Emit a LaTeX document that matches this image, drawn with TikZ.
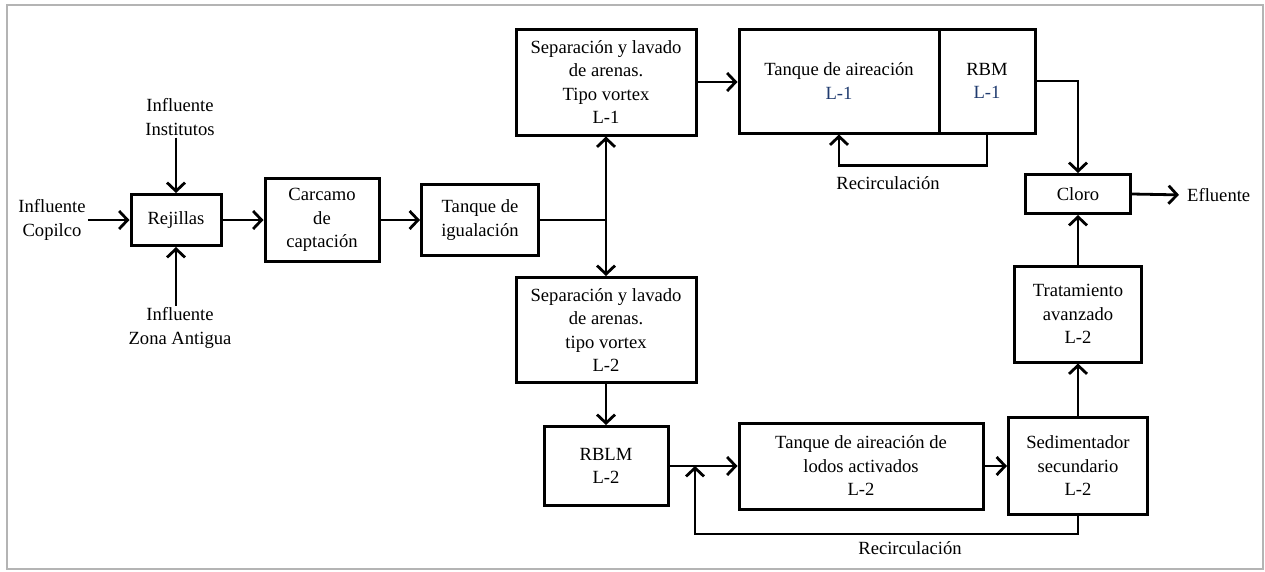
\documentclass[tikz,border=0pt]{standalone}
\usepackage{fontspec}
\setmainfont{Liberation Serif}
\usepackage{xcolor}
\usepackage{tikz}
\usetikzlibrary{arrows.meta}
\newcommand{\lbl}{\fontsize{18.6}{23.5}\selectfont}
\definecolor{lineblue}{HTML}{1F3A6E}
\definecolor{frame}{HTML}{B4B4B4}

\begin{document}
\begin{tikzpicture}[x=1pt, y=-1pt,
    box/.style={draw, line width=3pt, align=center, inner sep=0pt, font=\lbl},
    txt/.style={align=center, inner sep=2pt, font=\lbl},
    flow/.style={line width=2.8pt, -{Straight Barb[length=8.5pt, width=18pt]}},
    both/.style={line width=2.8pt, {Straight Barb[length=8.5pt, width=18pt]}-{Straight Barb[length=8.5pt, width=18pt]}}]
      \useasboundingbox (0,0) rectangle (1265,571);
      \draw[frame, line width=2pt] (7,5) rectangle (1263,569);
      % line 1
      \node[box, minimum width=90, minimum height=51] (rej) at (176,220) {Rejillas};
      \node[box, minimum width=114, minimum height=83] (carc) at (322,220) {Carcamo\\de\\captación};
      \node[box, minimum width=117, minimum height=71] (igual) at (480,220) {Tanque de\\igualación};
      \node[txt] (copilco) at (52,220) {Influente\\Copilco};
      \node[txt] (inst) at (180,117) {Influente\\Institutos};
      \node[txt] (zona) at (180,328) {Influente\\Zona Antigua};
      \coordinate (split) at (606,220);
      % L-1
      \node[box, minimum width=180, minimum height=106] (sepA) at (606,82) {Separación y lavado\\de arenas.\\Tipo vortex\\L-1};
      \node[box, minimum width=200, minimum height=104] (airA) at (839,81) {Tanque de aireación\\\textcolor{lineblue}{L-1}};
      \node[box, minimum width=96, minimum height=104] (rbm) at (987,81) {RBM\\\textcolor{lineblue}{L-1}};
      \node[box, minimum width=105, minimum height=39] (cloro) at (1078,194) {Cloro};
      \node[txt, anchor=west] (eflu) at (1185,195) {Efluente};
      \node[txt] (recA) at (888,183) {Recirculación};
      % L-2
      \node[box, minimum width=180, minimum height=105] (sepB) at (606,330) {Separación y lavado\\de arenas.\\tipo vortex\\L-2};
      \node[box, minimum width=124, minimum height=79] (rblm) at (606,466) {RBLM\\L-2};
      \node[box, minimum width=244, minimum height=86] (airB) at (861,466) {Tanque de aireación de\\lodos activados\\L-2};
      \node[box, minimum width=139, minimum height=97] (sed) at (1078,466) {Sedimentador\\secundario\\L-2};
      \node[box, minimum width=127, minimum height=96] (trat) at (1078,314) {Tratamiento\\avanzado\\L-2};
      \node[txt] (recB) at (910,548) {Recirculación};
      \coordinate (merge) at (695,466);

      \foreach \i\j in {copilco/rej, rej/carc, carc/igual, sepB/rblm, rblm/airB, airB/sed, sed/trat, trat/cloro} {
        \draw[flow] (\i) -- (\j);
      }
      \draw[flow] (inst.south -| rej.north) -- (rej.north);
      \draw[flow] (zona.north -| rej.south) -- (rej.south);
      \draw[line width=2.8pt] (igual.east) -- (split);
      \draw[both] (sepA) -- (sepB);
      \draw[flow] (sepA.east) -- (sepA.east -| airA.west);
      \draw[flow] (rbm.east) -| (cloro.north);
      \draw[flow, shorten >=6pt] (cloro.east) -- (eflu.west);
      \draw[flow] (rbm.south) -- ++(0,31) -| (airA.south);
      \draw[flow] (sed.south) -- ++(0,18) -| (merge);
\end{tikzpicture}
\end{document}
